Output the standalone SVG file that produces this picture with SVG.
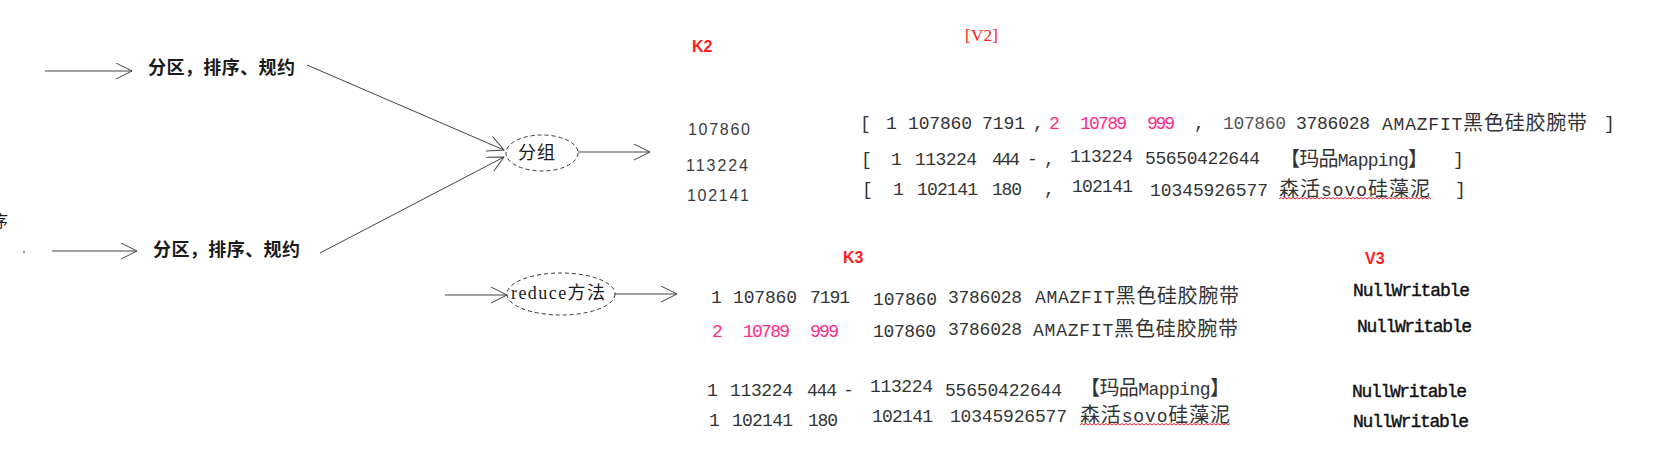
<svg xmlns="http://www.w3.org/2000/svg" width="1655" height="473" viewBox="0 0 1655 473">
<style>
.cn{font-family:"Noto Sans CJK SC","Noto Sans CJK JP",sans-serif;fill:#1a1a1a}
.m{font-family:"Liberation Mono","Noto Sans CJK SC",monospace;font-size:18px;fill:#333}
.g{fill:#555}
.pk{fill:#ff2a88}
.lbl{font-family:"Liberation Sans",sans-serif;font-weight:bold;font-size:16px;fill:#ff2020}
.k2{font-family:"Liberation Sans",sans-serif;font-size:16px;fill:#3a3a44}
.nw{font-family:"Liberation Mono",monospace;font-size:18px;fill:#111;stroke:#111;stroke-width:0.4}
.c{font-family:"Noto Sans CJK SC",sans-serif;font-size:20px}
.ln{stroke:#444;stroke-width:1;fill:none}
.el{fill:#fff;stroke:#333;stroke-width:1;stroke-dasharray:4,3}
.wv{stroke:#e23;stroke-width:1;fill:none}
</style>
<defs>
<marker id="ah" markerUnits="userSpaceOnUse" markerWidth="20" markerHeight="20" refX="16" refY="8" orient="auto">
<path d="M0,0 L16,8 L0,16" fill="none" stroke="#444" stroke-width="1"/>
</marker>
</defs>
<rect width="1655" height="473" fill="#fff"/>

<g id="connectors">
<line class="ln" x1="45" y1="71" x2="132" y2="71" marker-end="url(#ah)"/>
<line class="ln" x1="52" y1="251" x2="137" y2="251" marker-end="url(#ah)"/>
<line class="ln" x1="307" y1="65" x2="504" y2="150" marker-end="url(#ah)"/>
<line class="ln" x1="320" y1="253" x2="504" y2="157" marker-end="url(#ah)"/>
<line class="ln" x1="578" y1="152" x2="650" y2="152" marker-end="url(#ah)"/>
<line class="ln" x1="445" y1="295" x2="507" y2="295" marker-end="url(#ah)"/>
<line class="ln" x1="615" y1="294" x2="677" y2="294" marker-end="url(#ah)"/>
</g>

<g id="edge-fragments">
<text class="cn" x="-8" y="227" font-size="16">序</text>
<circle cx="24" cy="252" r="1" fill="#777"/>
</g>

<g id="partition1">
<text class="cn" x="148" y="74" font-size="18" font-weight="bold" textLength="147" lengthAdjust="spacing">分区，排序、规约</text>
</g>
<g id="partition2">
<text class="cn" x="153" y="256" font-size="18" font-weight="bold" textLength="147" lengthAdjust="spacing">分区，排序、规约</text>
</g>

<g id="group-node">
<ellipse class="el" cx="542" cy="153" rx="36" ry="18"/>
<text class="cn" x="518" y="159" font-size="18" textLength="37" lengthAdjust="spacing">分组</text>
</g>

<g id="reduce-node">
<ellipse class="el" cx="561" cy="294" rx="54" ry="21"/>
<text x="511" y="299" font-size="18" fill="#1a1a1a" textLength="94" lengthAdjust="spacing"><tspan font-family="Liberation Serif,serif">reduce</tspan><tspan font-family="Noto Sans CJK SC,sans-serif">方法</tspan></text>
</g>

<g id="k2">
<text class="lbl" x="692" y="52">K2</text>
<text class="k2" x="688" y="135" textLength="62" lengthAdjust="spacing">107860</text>
<text class="k2" x="686" y="171" textLength="62" lengthAdjust="spacing">113224</text>
<text class="k2" x="687" y="201" textLength="62" lengthAdjust="spacing">102141</text>
</g>

<g id="v2">
<text x="965" y="41" font-family="Liberation Serif,serif" font-size="17" fill="#ff2020" textLength="33" lengthAdjust="spacing">[V2]</text>
<!-- row 1 -->
<text class="m" x="860" y="129">[</text>
<text class="m" x="886" y="129">1</text>
<text class="m" x="908" y="129" textLength="64">107860</text>
<text class="m" x="982" y="129" textLength="43">7191</text>
<text class="m" x="1033" y="129">,</text>
<text class="m pk" x="1049" y="129">2</text>
<text class="m pk" x="1080" y="129" textLength="47">10789</text>
<text class="m pk" x="1147" y="129" textLength="28">999</text>
<text class="m" x="1194" y="129">,</text>
<text class="m g" x="1223" y="129" textLength="63">107860</text>
<text class="m" x="1296" y="129" textLength="74">3786028</text>
<text class="m" x="1382" y="130" textLength="205">AMAZFIT<tspan class="c">黑色硅胶腕带</tspan></text>
<text class="m" x="1604" y="129">]</text>
<!-- row 2 -->
<text class="m" x="861" y="165">[</text>
<text class="m" x="891" y="165">1</text>
<text class="m" x="915" y="165" textLength="62">113224</text>
<text class="m" x="992" y="165" textLength="28">444</text>
<text class="m" x="1027" y="165" fill="#aaa" font-size="12">-</text>
<text class="m" x="1044" y="165">,</text>
<text class="m" x="1070" y="162" textLength="63">113224</text>
<text class="m" x="1145" y="164" textLength="115">55650422644</text>
<text class="m" x="1280" y="166" textLength="148"><tspan class="c" font-size="19">【玛品</tspan>Mapping<tspan class="c" font-size="19">】</tspan></text>
<text class="m" x="1453" y="165">]</text>
<!-- row 3 -->
<text class="m" x="862" y="195">[</text>
<text class="m" x="893" y="195">1</text>
<text class="m" x="917" y="195" textLength="61">102141</text>
<text class="m" x="992" y="195" textLength="30">180</text>
<text class="m" x="1044" y="195">,</text>
<text class="m" x="1072" y="192" textLength="61">102141</text>
<text class="m" x="1150" y="196" textLength="118">10345926577</text>
<text class="m" x="1279" y="196" textLength="151"><tspan class="c" font-size="19">森活</tspan>sovo<tspan class="c" font-size="19">硅藻泥</tspan></text>
<text class="m" x="1455" y="195">]</text>
<path class="wv" d="M1279,199 l2,-1.5 l2,1.5 l2,-1.5 l2,1.5 l2,-1.5 l2,1.5 l2,-1.5 l2,1.5 l2,-1.5 l2,1.5 l2,-1.5 l2,1.5 l2,-1.5 l2,1.5 l2,-1.5 l2,1.5 l2,-1.5 l2,1.5 l2,-1.5 l2,1.5 l2,-1.5 l2,1.5 l2,-1.5 l2,1.5 l2,-1.5 l2,1.5 l2,-1.5 l2,1.5 l2,-1.5 l2,1.5 l2,-1.5 l2,1.5 l2,-1.5 l2,1.5 l2,-1.5 l2,1.5 l2,-1.5 l2,1.5 l2,-1.5 l2,1.5 l2,-1.5 l2,1.5 l2,-1.5 l2,1.5 l2,-1.5 l2,1.5 l2,-1.5 l2,1.5 l2,-1.5 l2,1.5 l2,-1.5 l2,1.5 l2,-1.5 l2,1.5 l2,-1.5 l2,1.5 l2,-1.5 l2,1.5 l2,-1.5 l2,1.5 l2,-1.5 l2,1.5 l2,-1.5 l2,1.5 l2,-1.5 l2,1.5 l2,-1.5 l2,1.5 l2,-1.5 l2,1.5 l2,-1.5 l2,1.5 l2,-1.5 l2,1.5 l2,-1.5 l2,1.5"/>
</g>

<g id="k3">
<text class="lbl" x="843" y="263">K3</text>
<!-- row A -->
<text class="m" x="711" y="303">1</text>
<text class="m" x="733" y="303" textLength="64">107860</text>
<text class="m" x="810" y="303" textLength="40">7191</text>
<text class="m" x="873" y="305" textLength="64">107860</text>
<text class="m" x="948" y="303" textLength="74">3786028</text>
<text class="m" x="1035" y="303" textLength="204">AMAZFIT<tspan class="c">黑色硅胶腕带</tspan></text>
<!-- row B -->
<text class="m pk" x="712" y="337">2</text>
<text class="m pk" x="743" y="337" textLength="47">10789</text>
<text class="m pk" x="810" y="337" textLength="29">999</text>
<text class="m" x="873" y="337" textLength="63">107860</text>
<text class="m" x="948" y="335" textLength="74">3786028</text>
<text class="m" x="1033" y="336" textLength="205">AMAZFIT<tspan class="c">黑色硅胶腕带</tspan></text>
<!-- row C -->
<text class="m" x="707" y="396">1</text>
<text class="m" x="730" y="396" textLength="63">113224</text>
<text class="m" x="807" y="396" textLength="30">444</text>
<text class="m" x="843" y="396" fill="#aaa" font-size="12">-</text>
<text class="m" x="870" y="392" textLength="63">113224</text>
<text class="m" x="945" y="396" textLength="117">55650422644</text>
<text class="m" x="1080" y="395" textLength="150"><tspan class="c" font-size="19">【玛品</tspan>Mapping<tspan class="c" font-size="19">】</tspan></text>
<!-- row D -->
<text class="m" x="709" y="426">1</text>
<text class="m" x="732" y="426" textLength="61">102141</text>
<text class="m" x="808" y="426" textLength="30">180</text>
<text class="m" x="872" y="422" textLength="61">102141</text>
<text class="m" x="950" y="422" textLength="117">10345926577</text>
<text class="m" x="1080" y="422" textLength="150"><tspan class="c" font-size="19">森活</tspan>sovo<tspan class="c" font-size="19">硅藻泥</tspan></text>
<path class="wv" d="M1080,425 l2,-1.5 l2,1.5 l2,-1.5 l2,1.5 l2,-1.5 l2,1.5 l2,-1.5 l2,1.5 l2,-1.5 l2,1.5 l2,-1.5 l2,1.5 l2,-1.5 l2,1.5 l2,-1.5 l2,1.5 l2,-1.5 l2,1.5 l2,-1.5 l2,1.5 l2,-1.5 l2,1.5 l2,-1.5 l2,1.5 l2,-1.5 l2,1.5 l2,-1.5 l2,1.5 l2,-1.5 l2,1.5 l2,-1.5 l2,1.5 l2,-1.5 l2,1.5 l2,-1.5 l2,1.5 l2,-1.5 l2,1.5 l2,-1.5 l2,1.5 l2,-1.5 l2,1.5 l2,-1.5 l2,1.5 l2,-1.5 l2,1.5 l2,-1.5 l2,1.5 l2,-1.5 l2,1.5 l2,-1.5 l2,1.5 l2,-1.5 l2,1.5 l2,-1.5 l2,1.5 l2,-1.5 l2,1.5 l2,-1.5 l2,1.5 l2,-1.5 l2,1.5 l2,-1.5 l2,1.5 l2,-1.5 l2,1.5 l2,-1.5 l2,1.5 l2,-1.5 l2,1.5 l2,-1.5 l2,1.5 l2,-1.5 l2,1.5 l2,-1.5"/>
</g>

<g id="v3">
<text class="lbl" x="1365" y="264">V3</text>
<text class="nw" x="1353" y="296" textLength="117">NullWritable</text>
<text class="nw" x="1357" y="332" textLength="115">NullWritable</text>
<text class="nw" x="1352" y="397" textLength="115">NullWritable</text>
<text class="nw" x="1353" y="427" textLength="116">NullWritable</text>
</g>
</svg>
